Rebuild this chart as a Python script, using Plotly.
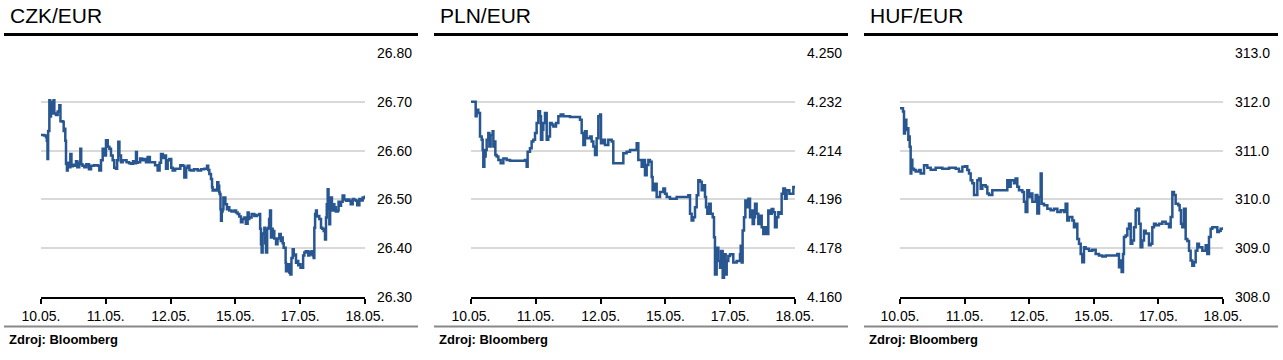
import plotly.graph_objects as go

# ---------------- data ----------------
date_labels = ["10.05.", "11.05.", "12.05.", "15.05.", "17.05.", "18.05."]
date_pos = [0, 1, 2, 3, 4, 5]

titles = ["CZK/EUR", "PLN/EUR", "HUF/EUR"]
source_text = "Zdroj: Bloomberg"

czk_x = [0.000, 0.050, 0.077, 0.090, 0.100, 0.110, 0.129, 0.140, 0.154, 0.170, 0.180, 0.195, 0.206, 0.231, 0.257,
         0.283, 0.300, 0.334, 0.350, 0.360, 0.375, 0.386, 0.400, 0.412, 0.430, 0.453, 0.470, 0.490, 0.514, 0.540,
         0.560, 0.590, 0.607, 0.620, 0.640, 0.669, 0.700, 0.740, 0.772, 0.820, 0.874, 0.900, 0.926, 0.952, 0.975,
         1.003, 1.030, 1.055, 1.080, 1.106, 1.130, 1.157, 1.175, 1.193, 1.210, 1.235, 1.260, 1.286, 1.320, 1.360,
         1.389, 1.420, 1.450, 1.466, 1.480, 1.492, 1.530, 1.560, 1.595, 1.620, 1.646, 1.680, 1.723, 1.760, 1.800,
         1.830, 1.852, 1.880, 1.903, 1.929, 1.955, 1.980, 2.010, 2.032, 2.070, 2.109, 2.150, 2.186, 2.212, 2.240,
         2.263, 2.290, 2.315, 2.360, 2.418, 2.470, 2.521, 2.562, 2.580, 2.598, 2.623, 2.640, 2.649, 2.680, 2.701,
         2.720, 2.737, 2.750, 2.757, 2.770, 2.778, 2.790, 2.803, 2.815, 2.829, 2.845, 2.855, 2.870, 2.881, 2.906,
         2.940, 2.984, 3.010, 3.035, 3.060, 3.086, 3.110, 3.138, 3.160, 3.189, 3.205, 3.215, 3.250, 3.292, 3.330,
         3.369, 3.382, 3.395, 3.405, 3.420, 3.447, 3.460, 3.472, 3.490, 3.508, 3.520, 3.534, 3.549, 3.562, 3.575,
         3.600, 3.627, 3.650, 3.678, 3.700, 3.714, 3.730, 3.745, 3.765, 3.775, 3.781, 3.800, 3.817, 3.830, 3.848,
         3.865, 3.884, 3.900, 3.920, 3.935, 3.951, 3.970, 3.987, 4.005, 4.023, 4.045, 4.064, 4.085, 4.105, 4.125,
         4.141, 4.160, 4.177, 4.195, 4.208, 4.218, 4.230, 4.244, 4.257, 4.270, 4.295, 4.321, 4.340, 4.362, 4.383,
         4.398, 4.410, 4.424, 4.437, 4.450, 4.462, 4.475, 4.490, 4.501, 4.515, 4.527, 4.550, 4.578, 4.592, 4.604,
         4.630, 4.655, 4.680, 4.707, 4.730, 4.758, 4.780, 4.810, 4.835, 4.861, 4.880, 4.913, 4.940, 4.964, 4.985,
         5.000]
czk_y = [26.632, 26.631, 26.628, 26.620, 26.583, 26.640, 26.703, 26.670, 26.685, 26.700, 26.676, 26.703, 26.676, 26.673, 26.680,
         26.693, 26.660, 26.659, 26.640, 26.645, 26.620, 26.573, 26.559, 26.575, 26.566, 26.593, 26.568, 26.571, 26.569, 26.578,
         26.566, 26.575, 26.604, 26.572, 26.569, 26.566, 26.572, 26.562, 26.569, 26.570, 26.569, 26.559, 26.580, 26.604, 26.590,
         26.621, 26.608, 26.604, 26.590, 26.580, 26.565, 26.563, 26.580, 26.618, 26.590, 26.576, 26.580, 26.580, 26.576, 26.574,
         26.573, 26.578, 26.574, 26.597, 26.575, 26.576, 26.584, 26.580, 26.583, 26.576, 26.587, 26.576, 26.576, 26.570, 26.559,
         26.575, 26.593, 26.585, 26.590, 26.563, 26.580, 26.583, 26.565, 26.559, 26.563, 26.563, 26.570, 26.569, 26.545, 26.565,
         26.569, 26.560, 26.559, 26.562, 26.559, 26.562, 26.563, 26.569, 26.560, 26.552, 26.542, 26.525, 26.518, 26.520, 26.518,
         26.535, 26.528, 26.515, 26.511, 26.480, 26.456, 26.475, 26.480, 26.504, 26.504, 26.490, 26.490, 26.480, 26.484, 26.477,
         26.475, 26.477, 26.473, 26.470, 26.465, 26.453, 26.460, 26.463, 26.450, 26.473, 26.460, 26.463, 26.470, 26.466, 26.468,
         26.470, 26.440, 26.408, 26.391, 26.430, 26.442, 26.410, 26.391, 26.440, 26.442, 26.460, 26.477, 26.422, 26.440, 26.435,
         26.420, 26.408, 26.420, 26.429, 26.415, 26.422, 26.410, 26.401, 26.401, 26.370, 26.353, 26.360, 26.367, 26.350, 26.346,
         26.380, 26.398, 26.385, 26.387, 26.370, 26.374, 26.365, 26.367, 26.360, 26.360, 26.385, 26.391, 26.394, 26.394, 26.385,
         26.387, 26.392, 26.394, 26.385, 26.380, 26.442, 26.470, 26.477, 26.465, 26.466, 26.460, 26.442, 26.440, 26.435, 26.418,
         26.463, 26.490, 26.521, 26.480, 26.449, 26.480, 26.504, 26.480, 26.477, 26.490, 26.484, 26.475, 26.477, 26.495, 26.487,
         26.495, 26.508, 26.500, 26.497, 26.500, 26.497, 26.490, 26.501, 26.499, 26.497, 26.488, 26.501, 26.498, 26.504, 26.503,
         26.508]

pln_x = [0.000, 0.062, 0.072, 0.087, 0.113, 0.139, 0.165, 0.180, 0.190, 0.206, 0.226, 0.242, 0.267, 0.283, 0.303,
         0.334, 0.345, 0.360, 0.376, 0.396, 0.422, 0.458, 0.499, 0.550, 0.602, 0.705, 0.833, 0.859, 0.874, 0.910,
         0.936, 0.962, 0.988, 1.013, 1.039, 1.065, 1.080, 1.101, 1.116, 1.142, 1.168, 1.193, 1.219, 1.245, 1.271,
         1.312, 1.348, 1.384, 1.425, 1.528, 1.656, 1.682, 1.708, 1.734, 1.759, 1.785, 1.836, 1.862, 1.888, 1.914,
         1.939, 1.965, 1.991, 2.006, 2.032, 2.068, 2.119, 2.171, 2.196, 2.248, 2.325, 2.351, 2.402, 2.454, 2.505,
         2.557, 2.582, 2.634, 2.659, 2.685, 2.711, 2.737, 2.762, 2.788, 2.803, 2.840, 2.865, 2.917, 2.968, 2.994,
         3.020, 3.071, 3.174, 3.277, 3.354, 3.380, 3.405, 3.431, 3.457, 3.483, 3.508, 3.534, 3.560, 3.585, 3.611,
         3.627, 3.647, 3.673, 3.699, 3.730, 3.750, 3.765, 3.791, 3.817, 3.843, 3.858, 3.884, 3.904, 3.930, 3.946,
         3.971, 3.997, 4.048, 4.100, 4.151, 4.162, 4.177, 4.192, 4.213, 4.234, 4.254, 4.280, 4.306, 4.331, 4.347,
         4.367, 4.383, 4.408, 4.434, 4.460, 4.486, 4.511, 4.537, 4.563, 4.588, 4.614, 4.640, 4.666, 4.691, 4.717,
         4.743, 4.769, 4.794, 4.820, 4.846, 4.871, 4.913, 4.949, 4.974, 5.000]
pln_y = [4.2320, 4.2320, 4.2267, 4.2291, 4.2279, 4.2192, 4.2180, 4.2142, 4.2080, 4.2118, 4.2142, 4.2180, 4.2205, 4.2155, 4.2198,
         4.2211, 4.2155, 4.2174, 4.2124, 4.2118, 4.2105, 4.2093, 4.2111, 4.2105, 4.2103, 4.2103, 4.2105, 4.2080, 4.2136, 4.2149,
         4.2174, 4.2180, 4.2205, 4.2242, 4.2285, 4.2267, 4.2180, 4.2217, 4.2242, 4.2279, 4.2180, 4.2192, 4.2242, 4.2236, 4.2229,
         4.2242, 4.2267, 4.2273, 4.2267, 4.2264, 4.2264, 4.2254, 4.2205, 4.2161, 4.2211, 4.2186, 4.2192, 4.2174, 4.2155, 4.2124,
         4.2186, 4.2267, 4.2273, 4.2167, 4.2180, 4.2161, 4.2180, 4.2174, 4.2093, 4.2093, 4.2093, 4.2130, 4.2136, 4.2142, 4.2142,
         4.2167, 4.2105, 4.2080, 4.2105, 4.2049, 4.2087, 4.2105, 4.2099, 4.2043, 4.1994, 4.2018, 4.1969, 4.1987, 4.2000, 4.1981,
         4.1969, 4.1962, 4.1969, 4.1969, 4.1975, 4.1907, 4.1882, 4.1894, 4.1931, 4.1975, 4.2031, 4.2025, 4.1994, 4.2012, 4.1969,
         4.1931, 4.1907, 4.1944, 4.1907, 4.1894, 4.1820, 4.1683, 4.1782, 4.1733, 4.1708, 4.1770, 4.1671, 4.1758, 4.1683, 4.1733,
         4.1751, 4.1758, 4.1727, 4.1733, 4.1758, 4.1789, 4.1727, 4.1845, 4.1894, 4.1956, 4.1931, 4.1962, 4.1894, 4.1919, 4.1869,
         4.1894, 4.1944, 4.1907, 4.1869, 4.1900, 4.1857, 4.1832, 4.1857, 4.1832, 4.1919, 4.1907, 4.1925, 4.1913, 4.1857, 4.1894,
         4.1913, 4.1907, 4.1981, 4.2000, 4.1962, 4.1994, 4.1981, 4.1981, 4.2006, 4.2000]

huf_x = [0.000, 0.026, 0.046, 0.062, 0.077, 0.098, 0.114, 0.129, 0.139, 0.150, 0.165, 0.175, 0.191, 0.217, 0.243,
         0.294, 0.320, 0.372, 0.423, 0.475, 0.552, 0.655, 0.759, 0.862, 0.913, 0.965, 1.006, 1.042, 1.068, 1.094,
         1.120, 1.146, 1.171, 1.197, 1.223, 1.249, 1.274, 1.326, 1.352, 1.378, 1.429, 1.532, 1.636, 1.661, 1.687,
         1.713, 1.765, 1.790, 1.816, 1.842, 1.894, 1.919, 1.945, 1.971, 1.997, 2.023, 2.049, 2.100, 2.126, 2.152,
         2.178, 2.193, 2.229, 2.281, 2.332, 2.384, 2.436, 2.487, 2.539, 2.564, 2.590, 2.616, 2.668, 2.693, 2.719,
         2.745, 2.771, 2.797, 2.822, 2.848, 2.874, 2.926, 2.977, 3.029, 3.080, 3.132, 3.184, 3.287, 3.364, 3.390,
         3.416, 3.431, 3.452, 3.467, 3.493, 3.519, 3.545, 3.571, 3.596, 3.622, 3.648, 3.674, 3.700, 3.725, 3.751,
         3.777, 3.803, 3.854, 3.880, 3.906, 3.932, 3.958, 4.009, 4.061, 4.112, 4.164, 4.190, 4.216, 4.241, 4.267,
         4.308, 4.329, 4.350, 4.370, 4.396, 4.422, 4.448, 4.474, 4.499, 4.525, 4.551, 4.577, 4.603, 4.628, 4.680,
         4.732, 4.757, 4.783, 4.809, 4.835, 4.886, 4.912, 4.938, 4.964, 5.000]
huf_y = [311.87, 311.87, 311.80, 311.35, 311.63, 311.42, 311.46, 311.22, 311.29, 311.08, 310.53, 310.81, 310.63, 310.60, 310.57,
         310.60, 310.53, 310.70, 310.65, 310.61, 310.65, 310.63, 310.65, 310.63, 310.57, 310.67, 310.68, 310.60, 310.53, 310.39,
         310.33, 310.09, 310.09, 310.39, 310.43, 310.22, 310.29, 310.26, 310.12, 310.09, 310.19, 310.19, 310.19, 310.39, 310.26,
         310.39, 310.33, 310.43, 310.26, 310.19, 310.15, 309.95, 309.74, 310.19, 310.05, 310.12, 309.95, 310.09, 309.71, 310.05,
         310.53, 309.91, 309.88, 309.81, 309.78, 309.81, 309.74, 309.78, 309.74, 309.91, 309.57, 309.64, 309.57, 309.43, 309.50,
         309.19, 309.09, 308.88, 308.71, 309.02, 308.99, 308.95, 308.97, 308.88, 308.85, 308.83, 308.85, 308.85, 308.88, 308.61,
         308.75, 308.51, 308.88, 309.23, 309.26, 309.40, 309.50, 309.09, 309.16, 309.43, 309.78, 309.81, 309.50, 309.02, 309.16,
         309.36, 309.30, 309.06, 309.09, 309.43, 309.50, 309.47, 309.50, 309.54, 309.50, 309.43, 309.64, 310.15, 310.09, 309.91,
         309.88, 309.78, 309.50, 309.43, 309.81, 309.19, 309.15, 308.95, 308.75, 308.64, 308.71, 308.95, 309.09, 309.02, 308.95,
         309.06, 308.88, 309.23, 309.40, 309.43, 309.43, 309.33, 309.36, 309.40, 309.43]

y_ranges = [[26.30, 26.80], [4.160, 4.250], [308.0, 313.0]]
y_ticks = [[26.30, 26.40, 26.50, 26.60, 26.70, 26.80],
           [4.160, 4.178, 4.196, 4.214, 4.232, 4.250],
           [308.0, 309.0, 310.0, 311.0, 312.0, 313.0]]
y_formats = [".2f", ".3f", ".1f"]

# ---------------- layout geometry (pixels) ----------------
W, H = 1283, 360
plot_left = [41, 471, 900]
plot_right = [365, 795, 1223]
panel_left = [4, 434, 864]
panel_right = [418, 848, 1278]
plot_top, plot_bottom = 53, 297

LINE_COLOR = "#285690"
FONT = "Arial, Liberation Sans, sans-serif"

def px_x(p):
    return p / W

def px_y(p):
    return 1 - p / H

series = [(czk_x, czk_y), (pln_x, pln_y), (huf_x, huf_y)]

fig = go.Figure()
layout = dict(
    width=W, height=H,
    margin=dict(l=0, r=0, t=0, b=0, pad=0, autoexpand=False),
    paper_bgcolor="white", plot_bgcolor="white",
    showlegend=False,
    font=dict(family=FONT, color="#000000", size=14),
)

shapes = []
annotations = []
for i, (xs, ys) in enumerate(series):
    sfx = "" if i == 0 else str(i + 1)
    fig.add_trace(go.Scatter(
        x=xs, y=ys, mode="lines", line=dict(color=LINE_COLOR, width=2.5, shape="hv"),
        xaxis="x" + sfx, yaxis="y" + sfx, hoverinfo="skip",
    ))
    layout["xaxis" + sfx] = dict(
        domain=[px_x(plot_left[i]), px_x(plot_right[i])],
        anchor="y" + sfx, range=[0, 5], automargin=False,
        tickmode="array", tickvals=date_pos, ticktext=date_labels,
        showgrid=False, zeroline=False,
        showline=True, linecolor="#000000", linewidth=2,
        ticks="outside", ticklen=5, tickwidth=1.5, tickcolor="#000000",
        tickfont=dict(family=FONT, size=14, color="#000000"),
        fixedrange=True,
    )
    layout["yaxis" + sfx] = dict(
        domain=[px_y(plot_bottom), px_y(plot_top)],
        anchor="x" + sfx, side="right", range=y_ranges[i], automargin=False,
        tickmode="array", tickvals=y_ticks[i], tickformat=y_formats[i],
        showgrid=True, gridcolor="#d9d9d9", gridwidth=1.6,
        zeroline=False, showline=False, ticks="",
        ticklabelstandoff=11,
        tickfont=dict(family=FONT, size=14, color="#000000"),
        fixedrange=True,
    )
    # title underline (thick black)
    shapes.append(dict(type="line", xref="paper", yref="paper",
                       x0=px_x(panel_left[i]), x1=px_x(panel_right[i]),
                       y0=px_y(34.5), y1=px_y(34.5),
                       line=dict(color="#000000", width=3)))
    # bottom gray separator
    shapes.append(dict(type="line", xref="paper", yref="paper",
                       x0=px_x(panel_left[i]), x1=px_x(panel_right[i]),
                       y0=px_y(326.5), y1=px_y(326.5),
                       line=dict(color="#888888", width=2)))
    annotations.append(dict(text=titles[i], xref="paper", yref="paper",
                            x=px_x(panel_left[i] + 4), y=px_y(16),
                            xanchor="left", yanchor="middle", showarrow=False,
                            font=dict(family=FONT, size=21, color="#000000")))
    annotations.append(dict(text="<b>" + source_text + "</b>", xref="paper", yref="paper",
                            x=px_x(panel_left[i] + 3), y=px_y(339),
                            xanchor="left", yanchor="middle", showarrow=False,
                            font=dict(family=FONT, size=13, color="#000000")))

layout["shapes"] = shapes
layout["annotations"] = annotations
fig.update_layout(**layout)
fig.write_html(
    "out.html",
    config={"displayModeBar": False},
    post_script="document.body.style.margin='0px';document.body.style.padding='0px';document.body.style.overflow='hidden';",
)
